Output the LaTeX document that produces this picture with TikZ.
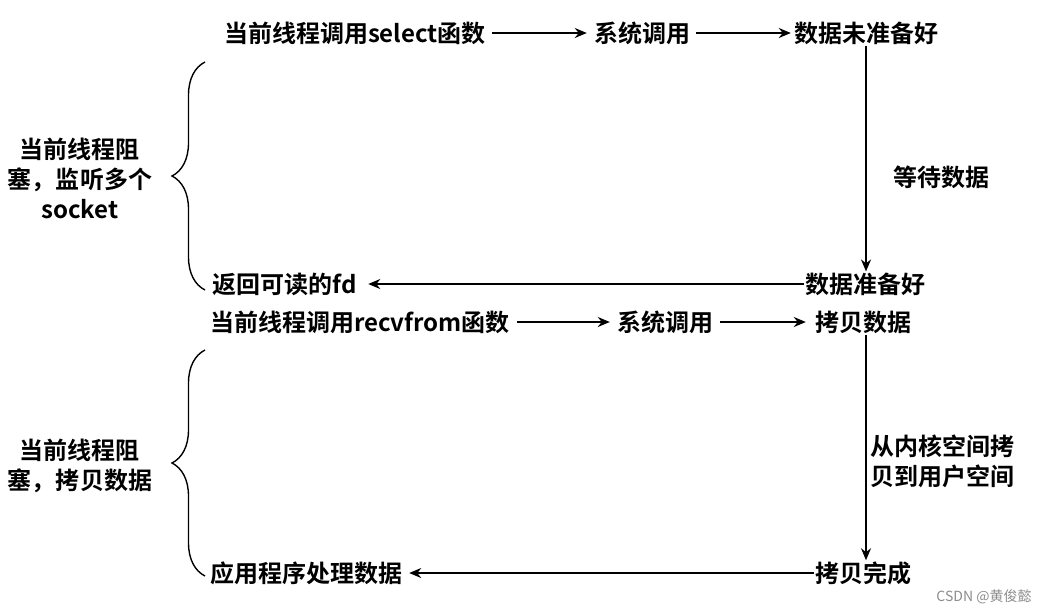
\documentclass[tikz,border=0pt]{standalone}
\usepackage{fontspec}
\setmainfont{Noto Sans CJK SC Bold}
\newfontfamily\wmfont{Noto Sans CJK SC}
\usetikzlibrary{arrows.meta,decorations.pathreplacing}
\begin{document}
\begin{tikzpicture}[x=1pt,y=-1pt,
  lbl/.style={font=\fontsize{24}{30}\selectfont, inner sep=1pt, align=center},
  arr/.style={line width=1.7pt, -{Stealth[length=12pt,width=10pt]}},
  brc/.style={line width=1.4pt, decorate, decoration={brace, amplitude=33pt}}]
\useasboundingbox (0,0) rectangle (1043,614);
% row 1
\node[lbl] (sel) at (355,33) {当前线程调用select函数};
\node[lbl] (sys1) at (642,33) {系统调用};
\node[lbl] (nr) at (866,33) {数据未准备好};
\draw[arr] ([xshift=5pt]sel.east) -- ([xshift=-6pt]sys1.west);
\draw[arr] ([xshift=5pt]sys1.east) -- ([xshift=-2pt]nr.west);
% wait
\node[lbl] (rd) at (865,284) {数据准备好};
\draw[arr] (nr.south) -- ([xshift=1pt]rd.north);
\node[lbl] (wait) at (941,177) {等待数据};
\node[lbl] (ret) at (285,284) {返回可读的fd};
\draw[arr] (rd.west) -- ([xshift=10pt]ret.east);
% row 2
\node[lbl] (recv) at (360,322) {当前线程调用recvfrom函数};
\node[lbl] (sys2) at (665,322) {系统调用};
\node[lbl] (cp) at (863,322) {拷贝数据};
\draw[arr] ([xshift=6pt]recv.east) -- ([xshift=-6pt]sys2.west);
\draw[arr] ([xshift=6pt]sys2.east) -- ([xshift=-8pt]cp.west);
\node[lbl] (done) at (863,573) {拷贝完成};
\draw[arr] ([xshift=3pt]cp.south) -- ([xshift=3pt]done.north);
\node[lbl] (k2u) at (942,461) {从内核空间拷\\贝到用户空间};
\node[lbl] (app) at (306,573) {应用程序处理数据};
\draw[arr] (done.west) -- ([xshift=6pt]app.east);
% braces
\coordinate (b1t) at (205,62);
\coordinate (b1b) at (205,290);
\draw[brc] (b1b) -- (b1t);
\node[lbl] (blk1) at (80,178) {当前线程阻\\塞，监听多个\\socket};
\coordinate (b2t) at (205,350);
\coordinate (b2b) at (205,576);
\draw[brc] (b2b) -- (b2t);
\node[lbl] (blk2) at (80,466) {当前线程阻\\塞，拷贝数据};
% watermark
\node[font=\wmfont\fontsize{14}{16}\selectfont, text=black!45] (wm) at (984,597) {CSDN @黄俊懿};
\end{tikzpicture}
\end{document}
